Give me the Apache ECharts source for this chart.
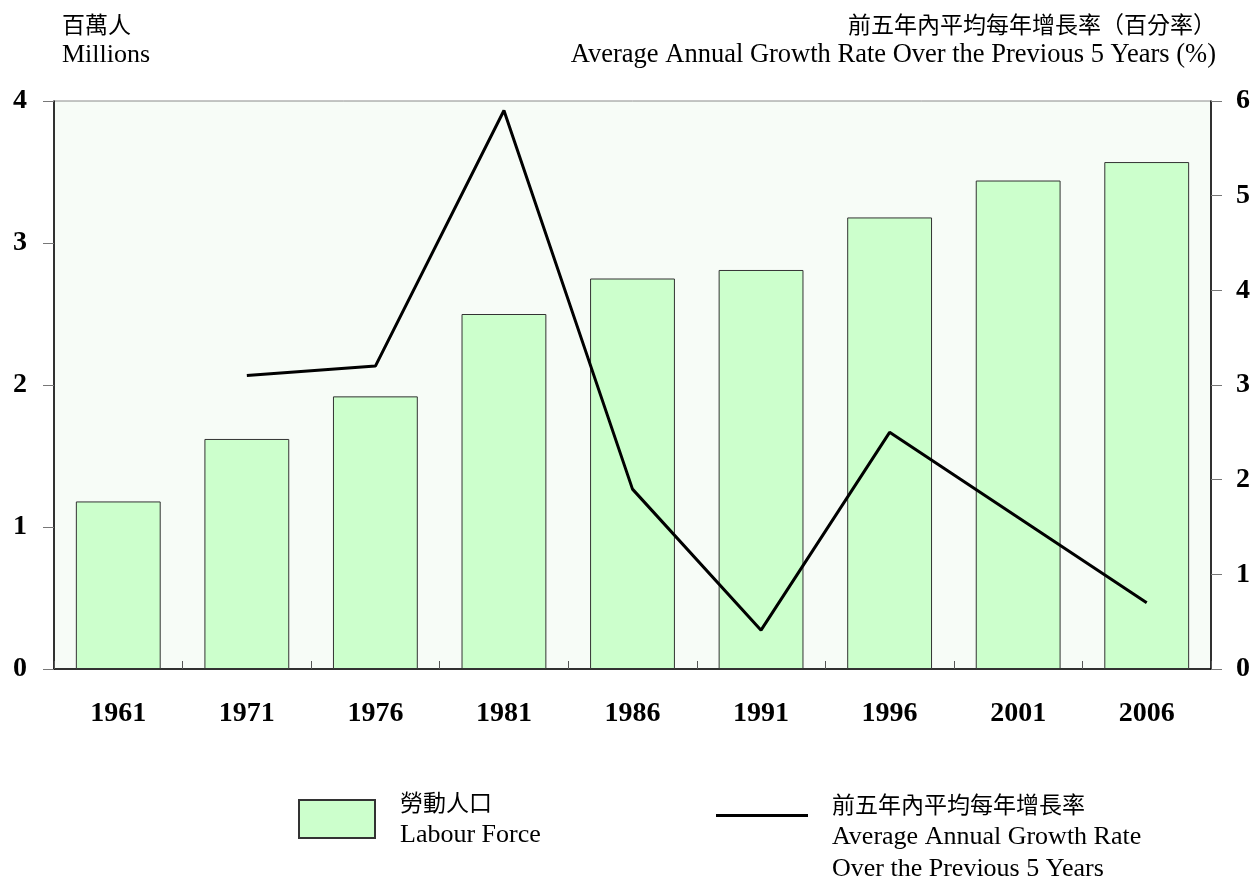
<!DOCTYPE html>
<html>
<head>
<meta charset="utf-8">
<script src="https://cdn.jsdelivr.net/npm/echarts@6/dist/echarts.min.js"></script>
<style>
html,body{margin:0;padding:0;background:#fff;}
#chart{width:1253px;height:879px;}
</style>
</head>
<body>
<div id="chart"></div>
<script>
const categories = ['1961','1971','1976','1981','1986','1991','1996','2001','2006'];
const labourForce = [1.18, 1.62, 1.92, 2.50, 2.75, 2.81, 3.18, 3.44, 3.57];
const growthRate = [null, 3.1, 3.2, 5.9, 1.9, 0.41, 2.5, 1.6, 0.7];
const leftTicks = {min: 0, max: 4, interval: 1};
const rightTicks = {min: 0, max: 6, interval: 1};
const barName = '勞動人口';
const lineName = '前五年內平均每年增長率';

const SERIF = '"Liberation Serif","Times New Roman",serif';
const CJK = '"Noto Sans CJK TC","Noto Sans CJK SC",sans-serif';

const chart = echarts.init(document.getElementById('chart'), null, {renderer: 'canvas'});
const option = {
  animation: false,
  backgroundColor: '#ffffff',
  grid: {
    left: 54, right: 41, top: 101, bottom: 210,
    show: true, backgroundColor: '#f7fcf7', borderColor: '#8a8a8a', borderWidth: 1
  },
  xAxis: {
    type: 'category',
    data: categories,
    axisLine: {lineStyle: {color: '#000', width: 1.5}},
    axisTick: {show: true, inside: true, length: 8, lineStyle: {color: '#555'}},
    axisLabel: {
      margin: 31, fontFamily: SERIF, fontWeight: 'bold', fontSize: 28, color: '#000'
    },
    splitLine: {show: false}
  },
  yAxis: [
    {
      type: 'value', min: leftTicks.min, max: leftTicks.max, interval: leftTicks.interval,
      position: 'left',
      axisLine: {show: true, lineStyle: {color: '#000', width: 1.5}},
      axisTick: {show: true, length: 11, lineStyle: {color: '#777'}},
      axisLabel: {margin: 27, fontFamily: SERIF, fontWeight: 'bold', fontSize: 28, color: '#000'},
      splitLine: {show: false}
    },
    {
      type: 'value', min: rightTicks.min, max: rightTicks.max, interval: rightTicks.interval,
      position: 'right',
      axisLine: {show: true, lineStyle: {color: '#000', width: 1.5}},
      axisTick: {show: true, length: 11, lineStyle: {color: '#777'}},
      axisLabel: {margin: 25, fontFamily: SERIF, fontWeight: 'bold', fontSize: 28, color: '#000'},
      splitLine: {show: false}
    }
  ],
  legend: [
    {
      data: [barName], left: 293, top: 786, itemWidth: 76, itemHeight: 38, itemGap: 0,
      selectedMode: false, icon: 'rect',
      formatter: function(){ return '{cn|勞動人口}\n{en|Labour Force}'; },
      textStyle: {
        padding: [0, 0, 0, 20],
        rich: {
          cn: {fontFamily: CJK, fontSize: 23, lineHeight: 33, color: '#000'},
          en: {fontFamily: SERIF, fontSize: 26, lineHeight: 33, color: '#000'}
        }
      }
    },
    {
      data: [lineName], left: 711, top: 809, itemWidth: 92, itemHeight: 3, itemGap: 0,
      selectedMode: false, icon: 'rect',
      formatter: function(){ return ''; },
      textStyle: {fontSize: 1}
    }
  ],
  graphic: [
    {type: 'text', style: {text: '百萬人', x: 62, y: 24, font: '23px ' + CJK, fill: '#000', textVerticalAlign: 'middle'}},
    {type: 'text', style: {text: 'Millions', x: 62, y: 55, font: '26px ' + SERIF, fill: '#000', textVerticalAlign: 'middle'}},
    {type: 'text', style: {text: '前五年內平均每年增長率（百分率）', x: 1216, y: 24, font: '23px ' + CJK, fill: '#000', textAlign: 'right', textVerticalAlign: 'middle'}},
    {type: 'text', style: {text: 'Average Annual Growth Rate Over the Previous 5 Years (%)', x: 1216, y: 55, font: '26.5px ' + SERIF, fill: '#000', textAlign: 'right', textVerticalAlign: 'middle'}},
    {type: 'text', style: {text: '前五年內平均每年增長率', x: 832, y: 804, font: '23px ' + CJK, fill: '#000', textVerticalAlign: 'middle'}},
    {type: 'text', style: {text: 'Average Annual Growth Rate', x: 832, y: 837, font: '26px ' + SERIF, fill: '#000', textVerticalAlign: 'middle'}},
    {type: 'text', style: {text: 'Over the Previous 5 Years', x: 832, y: 869, font: '26px ' + SERIF, fill: '#000', textVerticalAlign: 'middle'}}
  ],
  series: [
    {
      name: barName, type: 'bar', yAxisIndex: 0, data: labourForce,
      barCategoryGap: '34%',
      itemStyle: {color: '#ccffcc', borderColor: '#333', borderWidth: 1}
    },
    {
      name: lineName, type: 'line', yAxisIndex: 1, data: growthRate,
      showSymbol: false, symbol: 'none', connectNulls: false,
      lineStyle: {color: '#000', width: 3},
      itemStyle: {color: '#000'}
    }
  ]
};
chart.setOption(option);
</script>
</body>
</html>
